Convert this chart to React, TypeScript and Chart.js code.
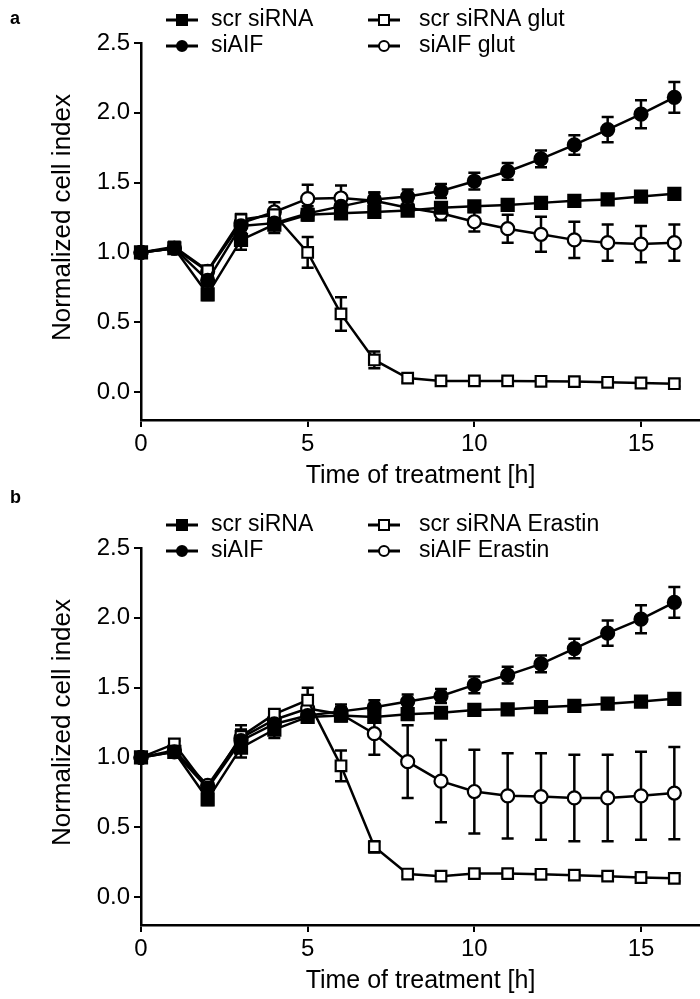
import React, { useEffect, useRef } from "react";
import { Chart, registerables } from "chart.js";

Chart.register(...registerables);

// ---------- data ----------
const hours = [0, 1, 2, 3, 4, 5, 6, 7, 8, 9, 10, 11, 12, 13, 14, 15, 16];
const xTickValues = [0, 5, 10, 15];
const yTickValues = [0, 0.5, 1.0, 1.5, 2.0, 2.5];

// panel a
const aScr = [1.0, 1.03, 0.7, 1.09, 1.2, 1.27, 1.28, 1.29, 1.3, 1.32, 1.33, 1.34, 1.355, 1.37, 1.38, 1.4, 1.42];
const aScrErr = [0.01, 0.02, 0.04, 0.07, 0.06, 0.04, 0.03, 0.03, 0.03, 0.02, 0.02, 0.02, 0.02, 0.02, 0.02, 0.02, 0.02];
const aSiAIF = [1.0, 1.03, 0.8, 1.19, 1.21, 1.28, 1.33, 1.38, 1.4, 1.44, 1.51, 1.58, 1.67, 1.77, 1.88, 1.99, 2.11];
const aSiAIFErr = [0.01, 0.02, 0.04, 0.05, 0.05, 0.05, 0.05, 0.05, 0.05, 0.05, 0.06, 0.06, 0.06, 0.07, 0.09, 0.1, 0.11];
const aScrGlut = [1.0, 1.04, 0.87, 1.235, 1.27, 1.0, 0.56, 0.23, 0.1, 0.08, 0.08, 0.08, 0.077, 0.075, 0.07, 0.065, 0.06];
const aScrGlutErr = [0.01, 0.02, 0.03, 0.04, 0.03, 0.11, 0.12, 0.06, 0.03, 0.02, 0.02, 0.02, 0.02, 0.02, 0.02, 0.02, 0.02];
const aSiAIFGlut = [1.0, 1.03, 0.865, 1.21, 1.29, 1.385, 1.39, 1.37, 1.32, 1.28, 1.22, 1.17, 1.13, 1.09, 1.07, 1.06, 1.07];
const aSiAIFGlutErr = [0.01, 0.02, 0.03, 0.04, 0.07, 0.1, 0.09, 0.06, 0.05, 0.05, 0.07, 0.1, 0.125, 0.13, 0.13, 0.13, 0.13];

// panel b
const bScr = [1.0, 1.04, 0.7, 1.07, 1.2, 1.29, 1.3, 1.29, 1.31, 1.32, 1.34, 1.345, 1.36, 1.37, 1.385, 1.4, 1.42];
const bScrErr = [0.01, 0.02, 0.04, 0.07, 0.06, 0.04, 0.03, 0.03, 0.03, 0.02, 0.02, 0.02, 0.02, 0.02, 0.02, 0.02, 0.02];
const bSiAIF = [1.0, 1.04, 0.78, 1.12, 1.24, 1.3, 1.33, 1.36, 1.4, 1.44, 1.52, 1.59, 1.67, 1.78, 1.89, 1.99, 2.11];
const bSiAIFErr = [0.01, 0.02, 0.04, 0.05, 0.05, 0.05, 0.05, 0.05, 0.05, 0.05, 0.06, 0.06, 0.06, 0.07, 0.09, 0.1, 0.11];
const bScrErastin = [1.0, 1.097, 0.78, 1.15, 1.31, 1.41, 0.94, 0.36, 0.165, 0.15, 0.168, 0.168, 0.163, 0.157, 0.15, 0.14, 0.134];
const bScrErastinErr = [0.01, 0.02, 0.03, 0.05, 0.03, 0.09, 0.11, 0.04, 0.02, 0.02, 0.02, 0.02, 0.02, 0.02, 0.02, 0.02, 0.02];
const bSiAIFErastin = [1.0, 1.05, 0.8, 1.14, 1.27, 1.35, 1.31, 1.17, 0.97, 0.83, 0.756, 0.725, 0.72, 0.71, 0.71, 0.725, 0.745];
const bSiAIFErastinErr = [0.01, 0.02, 0.03, 0.09, 0.05, 0.07, 0.05, 0.15, 0.26, 0.295, 0.3, 0.305, 0.31, 0.31, 0.31, 0.315, 0.33];

const labelsA = ["scr siRNA", "siAIF", "scr siRNA glut", "siAIF glut"];
const labelsB = ["scr siRNA", "siAIF", "scr siRNA Erastin", "siAIF Erastin"];
const yTitle = "Normalized cell index";
const xTitle = "Time of treatment [h]";

const FONT = "'Liberation Sans', Arial, sans-serif";

// ---------- helpers ----------
type Style = { shape: "rect" | "circle"; filled: boolean };
const styles: Style[] = [
  { shape: "rect", filled: true },
  { shape: "circle", filled: true },
  { shape: "rect", filled: false },
  { shape: "circle", filled: false },
];

function makeDataset(label: string, vals: number[], errs: number[], st: Style) {
  return {
    label,
    data: hours.map((h, i) => ({ x: h, y: vals[i] })),
    errors: errs,
    markerStyle: st,
    borderColor: "#000",
    borderWidth: 2.5,
    pointStyle: st.shape,
    pointRadius: st.shape === "rect" ? (st.filled ? 8.5 : 7.5) : 6.5,
    pointBackgroundColor: st.filled ? "#000" : "#fff",
    pointBorderColor: "#000",
    pointBorderWidth: 2.2,
    tension: 0,
    clip: false,
    fill: false,
  };
}

const errorBarPlugin = {
  id: "errorBars",
  beforeDatasetsDraw(chart: any) {
    const ctx = chart.ctx;
    const ys = chart.scales.y;
    ctx.save();
    ctx.strokeStyle = "#000";
    ctx.lineWidth = 2.5;
    chart.data.datasets.forEach((ds: any, di: number) => {
      const meta = chart.getDatasetMeta(di);
      meta.data.forEach((pt: any, i: number) => {
        const v = ds.data[i].y;
        const e = ds.errors[i];
        if (!e) return;
        const top = ys.getPixelForValue(v + e);
        const bot = ys.getPixelForValue(v - e);
        ctx.beginPath();
        ctx.moveTo(pt.x, top);
        ctx.lineTo(pt.x, bot);
        ctx.moveTo(pt.x - 6, top);
        ctx.lineTo(pt.x + 6, top);
        ctx.moveTo(pt.x - 6, bot);
        ctx.lineTo(pt.x + 6, bot);
        ctx.stroke();
      });
    });
    ctx.restore();
  },
};

function drawMarker(ctx: CanvasRenderingContext2D, x: number, y: number, st: Style, r: number) {
  ctx.beginPath();
  if (st.shape === "rect") {
    ctx.rect(x - r, y - r, 2 * r, 2 * r);
  } else {
    ctx.arc(x, y, r, 0, Math.PI * 2);
  }
  ctx.fillStyle = st.filled ? "#000" : "#fff";
  ctx.fill();
  ctx.lineWidth = 2;
  ctx.strokeStyle = "#000";
  ctx.stroke();
}

const legendPlugin = {
  id: "customLegend",
  afterDraw(chart: any, _args: any, opts: any) {
    const ctx = chart.ctx;
    const colX = [182, 384];
    const textX = [211, 419];
    const rowY = [opts.row1, opts.row2];
    ctx.save();
    ctx.font = `23px ${FONT}`;
    ctx.textBaseline = "middle";
    ctx.textAlign = "left";
    chart.data.datasets.forEach((ds: any, i: number) => {
      const col = Math.floor(i / 2);
      const row = i % 2;
      const cx = colX[col];
      const cy = rowY[row];
      ctx.strokeStyle = "#000";
      ctx.lineWidth = 3;
      ctx.beginPath();
      ctx.moveTo(cx - 16, cy);
      ctx.lineTo(cx + 16, cy);
      ctx.stroke();
      drawMarker(ctx, cx, cy, ds.markerStyle, 5);
      ctx.fillStyle = "#000";
      ctx.fillText(ds.label, textX[col], cy);
    });
    // y-axis title, centred on the 0..2.5 range
    const ys = chart.scales.y;
    const cy = (ys.getPixelForValue(0) + ys.getPixelForValue(2.5)) / 2;
    ctx.translate(opts.yTitleX, cy);
    ctx.rotate(-Math.PI / 2);
    ctx.textAlign = "center";
    ctx.font = `26px ${FONT}`;
    ctx.fillText(yTitle, 0, 0);
    ctx.restore();
  },
};

function makeConfig(datasets: any[], legendRows: [number, number], topPad: number, xHeight: number) {
  return {
    type: "line",
    data: { datasets },
    plugins: [errorBarPlugin, legendPlugin],
    options: {
      responsive: false,
      animation: false,
      devicePixelRatio: 1,
      layout: { autoPadding: false, padding: { top: topPad, left: 0, right: 0, bottom: 0 } },
      plugins: {
        legend: { display: false },
        tooltip: { enabled: false },
        customLegend: { row1: legendRows[0], row2: legendRows[1], yTitleX: 63 },
      },
      scales: {
        x: {
          type: "linear",
          min: 0,
          max: 16.77,
          afterBuildTicks: (s: any) => {
            s.ticks = xTickValues.map((v) => ({ value: v }));
          },
          afterFit: (s: any) => {
            s.height = xHeight;
            s.paddingRight = 0;
            s.paddingLeft = 0;
          },
          grid: { display: true, drawOnChartArea: false, drawTicks: true, tickLength: 7, color: "#000", lineWidth: 2 },
          border: { display: true, color: "#000", width: 2.5 },
          ticks: { color: "#000", font: { family: FONT, size: 24 }, padding: 3, maxRotation: 0 },
          title: {
            display: true,
            text: xTitle,
            color: "#000",
            font: { family: FONT, size: 25 },
            padding: { top: 0, bottom: 3 },
          },
        },
        y: {
          type: "linear",
          min: -0.2,
          max: 2.5,
          afterBuildTicks: (s: any) => {
            s.ticks = yTickValues.map((v) => ({ value: v }));
          },
          afterFit: (s: any) => {
            s.width = 141;
            s.paddingTop = 0;
            s.paddingBottom = 0;
          },
          grid: { display: true, drawOnChartArea: false, drawTicks: true, tickLength: 7, color: "#000", lineWidth: 2 },
          border: { display: true, color: "#000", width: 2.5 },
          ticks: {
            color: "#000",
            font: { family: FONT, size: 24 },
            padding: 4,
            callback: (v: any) => Number(v).toFixed(1),
          },
          title: { display: false },
        },
      },
    },
  };
}

function Panel({ datasets, top, height, topPad, xHeight, legendRows }: any) {
  const ref = useRef<HTMLCanvasElement | null>(null);
  useEffect(() => {
    if (!ref.current) return;
    const chart = new Chart(ref.current, makeConfig(datasets, legendRows, topPad, xHeight) as any);
    return () => chart.destroy();
  }, []);
  return (
    <canvas
      ref={ref}
      width={700}
      height={height}
      style={{ position: "absolute", left: 0, top, width: 700, height }}
    />
  );
}

export default function App() {
  const dsA = [
    makeDataset(labelsA[0], aScr, aScrErr, styles[0]),
    makeDataset(labelsA[1], aSiAIF, aSiAIFErr, styles[1]),
    makeDataset(labelsA[2], aScrGlut, aScrGlutErr, styles[2]),
    makeDataset(labelsA[3], aSiAIFGlut, aSiAIFGlutErr, styles[3]),
  ];
  const dsB = [
    makeDataset(labelsB[0], bScr, bScrErr, styles[0]),
    makeDataset(labelsB[1], bSiAIF, bSiAIFErr, styles[1]),
    makeDataset(labelsB[2], bScrErastin, bScrErastinErr, styles[2]),
    makeDataset(labelsB[3], bSiAIFErastin, bSiAIFErastinErr, styles[3]),
  ];
  const labelStyle: React.CSSProperties = {
    position: "absolute",
    left: 10,
    fontFamily: FONT,
    fontWeight: "bold",
    fontSize: 18,
    lineHeight: "20px",
    color: "#000",
  };
  return (
    <div style={{ position: "absolute", left: 0, top: 0, width: 700, height: 999, background: "#fff" }}>
      <Panel datasets={dsA} top={0} height={494} topPad={43} xHeight={74} legendRows={[20, 46]} />
      <Panel datasets={dsB} top={505} height={494} topPad={43} xHeight={74} legendRows={[20, 46]} />
      <div style={{ ...labelStyle, top: 8 }}>a</div>
      <div style={{ ...labelStyle, top: 487 }}>b</div>
    </div>
  );
}
